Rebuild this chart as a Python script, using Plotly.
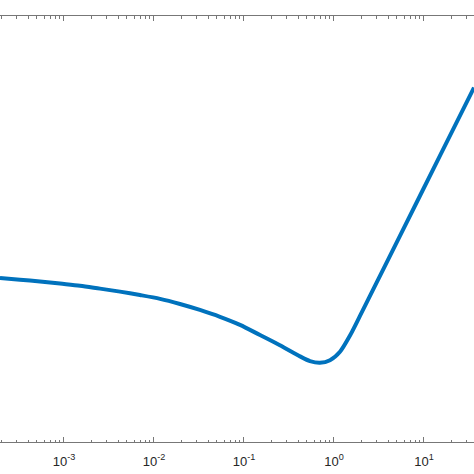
import plotly.graph_objects as go

# values (x is log scale, y has no visible labels)
x_vals = [1.945e-4, 3.24e-4, 5.41e-4, 9.03e-4, 1.507e-3, 2.512e-3, 4.19e-3,
          6.98e-3, 1.167e-2, 1.945e-2, 3.24e-2, 5.41e-2, 9.03e-2,
          0.1507, 0.251, 0.419, 0.541, 0.698, 0.903, 1.167, 1.507, 1.945,
          2.512, 5.41, 15.07, 35.97]
y_vals = [0.385, 0.381, 0.377, 0.372, 0.367, 0.360, 0.353,
          0.345, 0.336, 0.324, 0.310, 0.294, 0.275,
          0.251, 0.227, 0.201, 0.190, 0.186, 0.192, 0.212, 0.250, 0.296,
          0.343, 0.484, 0.672, 0.832]

tick_vals = [1e-3, 1e-2, 1e-1, 1, 10]
tick_text = ["10<sup>-3</sup>", "10<sup>-2</sup>", "10<sup>-1</sup>", "10<sup>0</sup>", "10<sup>1</sup>"]

fig = go.Figure()
fig.add_trace(go.Scatter(
    x=x_vals, y=y_vals, mode="lines",
    line=dict(color="#0072BD", width=4, shape="spline", smoothing=0.8),
    showlegend=False, hoverinfo="skip",
))

fig.update_layout(
    width=474, height=474,
    margin=dict(l=0, r=0, t=16, b=32),
    paper_bgcolor="white", plot_bgcolor="white",
    font=dict(family="Liberation Sans, Arial, sans-serif", size=13, color="#262626"),
)

fig.update_xaxes(
    type="log", range=[-3.711, 1.556],
    tickvals=tick_vals, ticktext=tick_text,
    ticks="inside", ticklen=5, tickwidth=1, tickcolor="#777",
    ticklabelstandoff=7,
    showline=True, linecolor="#777", linewidth=1, mirror="allticks",
    showgrid=False, zeroline=False,
    minor=dict(ticks="inside", ticklen=2.5, tickcolor="#777", dtick="D1", showgrid=False),
)
fig.update_yaxes(
    range=[0, 1], showline=False, showticklabels=False, ticks="",
    showgrid=False, zeroline=False,
)

# the page body has an 8px default margin; drop it so the figure fills the window
fig.write_html("out.html", config={"displayModeBar": False},
               post_script="document.body.style.margin='0';")
